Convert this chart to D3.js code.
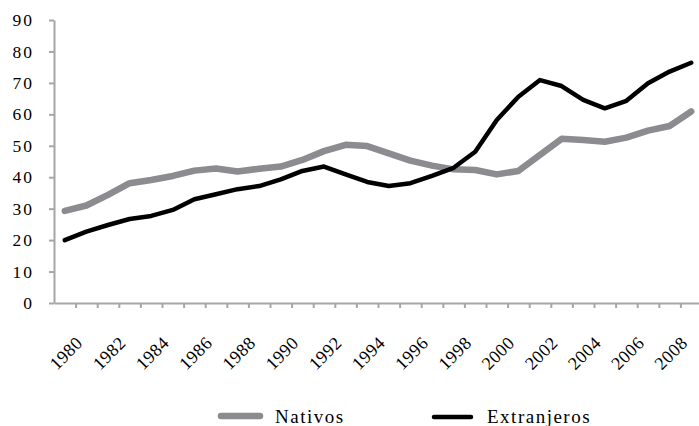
<!DOCTYPE html>
<html>
<head>
<meta charset="utf-8">
<script src="https://cdn.jsdelivr.net/npm/d3@7"></script>
<style>
  html, body { margin: 0; padding: 0; background: #ffffff; }
  svg { display: block; }
  text { font-family: "Liberation Serif", "Times New Roman", serif; fill: #000; }
</style>
</head>
<body>
<div id="chart"></div>
<script>
// ---- data ----
const years = [1980, 1981, 1982, 1983, 1984, 1985, 1986, 1987, 1988, 1989,
               1990, 1991, 1992, 1993, 1994, 1995, 1996, 1997, 1998, 1999,
               2000, 2001, 2002, 2003, 2004, 2005, 2006, 2007, 2008, 2009];
const nativos = [29.3, 31.0, 34.4, 38.1, 39.1, 40.4, 42.1, 42.8, 41.8, 42.7,
                 43.4, 45.5, 48.3, 50.3, 49.9, 47.6, 45.3, 43.7, 42.5, 42.3,
                 40.9, 42.0, 47.1, 52.2, 51.8, 51.3, 52.6, 54.8, 56.3, 60.9];
const extranjeros = [20.0, 22.7, 24.8, 26.7, 27.7, 29.6, 33.0, 34.6, 36.2, 37.2,
                     39.3, 42.0, 43.4, 40.9, 38.5, 37.2, 38.1, 40.4, 43.0, 48.1,
                     58.2, 65.6, 70.9, 69.0, 64.6, 61.9, 64.3, 69.9, 73.6, 76.4];
const yTicks = [0, 10, 20, 30, 40, 50, 60, 70, 80, 90];
const xLabelYears = [1980, 1982, 1984, 1986, 1988, 1990, 1992, 1994,
                     1996, 1998, 2000, 2002, 2004, 2006, 2008];
const seriesNames = ["Nativos", "Extranjeros"];

// ---- layout ----
const W = 699, H = 426;
const plotLeft = 54, plotRight = 702, plotTop = 20, plotBottom = 303;
const axisColor = "#a6a6a6";
const grayColor = "#8c8c90";

const svg = d3.select("#chart").append("svg")
  .attr("width", W).attr("height", H);

const x = d3.scaleLinear()
  .domain([years[0] - 0.5, years[years.length - 1] + 0.5])
  .range([plotLeft, plotRight]);
const y = d3.scaleLinear().domain([0, 90]).range([plotBottom, plotTop]);

// y axis
const yAxis = svg.append("g")
  .attr("transform", `translate(${plotLeft},0)`)
  .call(d3.axisLeft(y).tickValues(yTicks).tickSize(5).tickSizeOuter(0).tickPadding(15));
yAxis.select(".domain").attr("stroke", axisColor).attr("stroke-width", 2);
yAxis.selectAll(".tick line").attr("stroke", axisColor).attr("stroke-width", 2);
yAxis.selectAll(".tick text")
  .style("font-family", '"Liberation Serif", serif')
  .style("font-size", "17.5px")
  .style("letter-spacing", "2px")
  .attr("fill", "#000");

// x axis (ticks at category boundaries)
const boundaries = years.slice(1).map(d => d - 0.5);
const xAxis = svg.append("g")
  .attr("transform", `translate(0,${plotBottom})`)
  .call(d3.axisBottom(x).tickValues(boundaries).tickFormat("").tickSize(5).tickSizeOuter(0));
xAxis.select(".domain").attr("stroke", axisColor).attr("stroke-width", 2);
xAxis.selectAll(".tick line").attr("stroke", axisColor).attr("stroke-width", 2);

// x labels (rotated)
svg.append("g").selectAll("text")
  .data(xLabelYears)
  .join("text")
  .attr("transform", d => `translate(${x(d) + 19},344) rotate(-45)`)
  .attr("text-anchor", "end")
  .style("font-size", "18px")
  .style("letter-spacing", "0.5px")
  .text(d => d);

// lines
const line = d3.line().x((d, i) => x(years[i])).y(d => y(d));

svg.append("path")
  .datum(nativos)
  .attr("d", line)
  .attr("fill", "none")
  .attr("stroke", grayColor)
  .attr("stroke-width", 6.5)
  .attr("stroke-linejoin", "round")
  .attr("stroke-linecap", "round");

svg.append("path")
  .datum(extranjeros)
  .attr("d", line)
  .attr("fill", "none")
  .attr("stroke", "#000")
  .attr("stroke-width", 4.5)
  .attr("stroke-linejoin", "round")
  .attr("stroke-linecap", "round");

// legend
const legend = svg.append("g");
const legendItems = [
  { name: seriesNames[0], color: grayColor, width: 6.5, x1: 221, x2: 260, ly: 416, tx: 275 },
  { name: seriesNames[1], color: "#000", width: 4.5, x1: 434, x2: 471, ly: 417, tx: 487 }
];
legendItems.forEach(it => {
  legend.append("line")
    .attr("x1", it.x1).attr("x2", it.x2)
    .attr("y1", it.ly).attr("y2", it.ly)
    .attr("stroke", it.color).attr("stroke-width", it.width)
    .attr("stroke-linecap", "round");
  legend.append("text")
    .attr("x", it.tx).attr("y", 423)
    .style("font-size", "19px")
    .style("letter-spacing", "1.5px")
    .text(it.name);
});
</script>
</body>
</html>
